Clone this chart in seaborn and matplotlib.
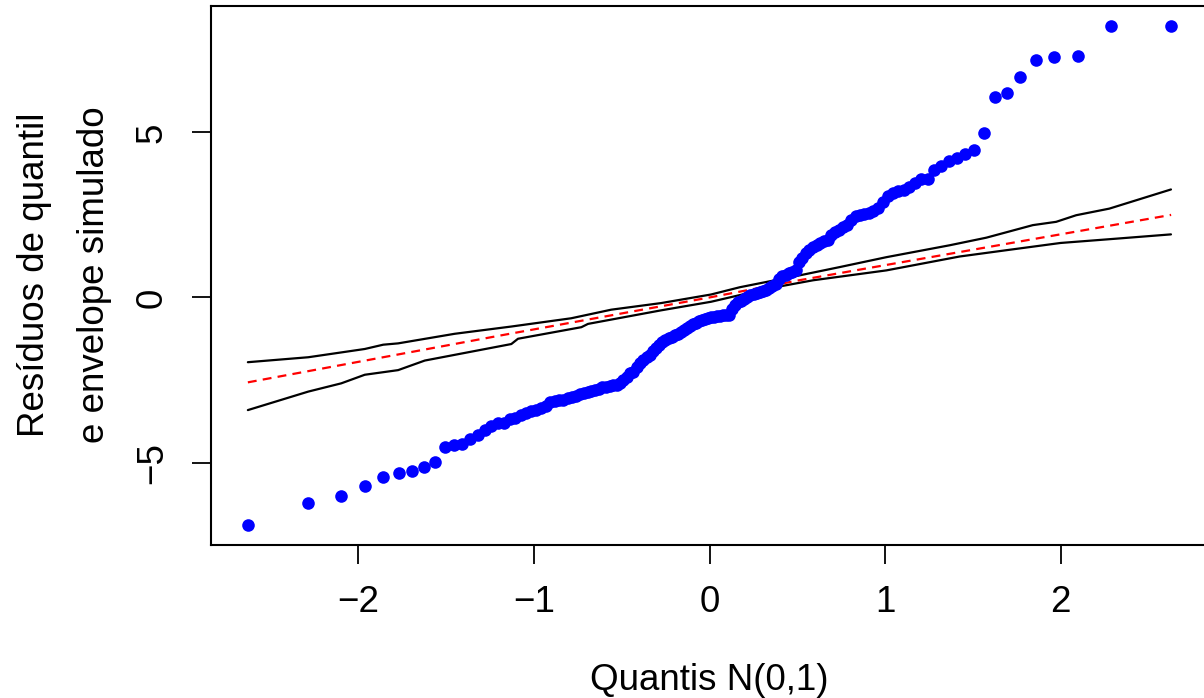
import statistics
import numpy as np
import pandas as pd
import matplotlib
matplotlib.use("Agg")
import matplotlib.pyplot as plt
import seaborn as sns

# ---- data ----
residuals = [
    -6.89, -6.23, -6.01, -5.70, -5.44, -5.31, -5.26, -5.14, -4.98, -4.52,
    -4.47, -4.45, -4.28, -4.16, -4.01, -3.88, -3.80, -3.79, -3.68, -3.65,
    -3.57, -3.49, -3.45, -3.41, -3.35, -3.28, -3.18, -3.13, -3.11, -3.09,
    -3.05, -3.02, -2.98, -2.93, -2.90, -2.87, -2.84, -2.80, -2.76, -2.72,
    -2.70, -2.68, -2.66, -2.64, -2.59, -2.50, -2.40, -2.28, -2.25, -2.10,
    -1.98, -1.89, -1.80, -1.73, -1.63, -1.53, -1.44, -1.36, -1.30, -1.24,
    -1.19, -1.15, -1.11, -1.05, -1.00, -0.93, -0.87, -0.81, -0.76, -0.71,
    -0.68, -0.65, -0.62, -0.60, -0.58, -0.56, -0.55, -0.54, -0.53, -0.52,
    -0.35, -0.22, -0.15, -0.10, -0.04, 0.02, 0.07, 0.10, 0.14, 0.18,
    0.21, 0.24, 0.28, 0.34, 0.42, 0.56, 0.64, 0.69, 0.74, 0.77,
    0.82, 1.07, 1.18, 1.34, 1.45, 1.53, 1.58, 1.64, 1.70, 1.74,
    1.90, 1.98, 2.03, 2.12, 2.20, 2.35, 2.46, 2.49, 2.52, 2.56,
    2.62, 2.72, 2.90, 3.06, 3.17, 3.21, 3.25, 3.35, 3.48, 3.59,
    3.59, 3.85, 3.97, 4.12, 4.22, 4.35, 4.47, 4.97, 6.07, 6.20,
    6.68, 7.18, 7.27, 7.32, 8.22, 8.22,
]

upper_x = [-2.63, -2.286, -1.964, -1.859, -1.774, -1.452, -1.129, -0.788, -0.560,
           -0.276, 0.009, 0.173, 0.514, 0.742, 1.008, 1.368, 1.577, 1.842, 1.975,
           2.089, 2.278, 2.629]
upper_y = [-1.96, -1.81, -1.56, -1.43, -1.39, -1.10, -0.88, -0.63, -0.37,
           -0.17, 0.09, 0.31, 0.67, 0.92, 1.22, 1.58, 1.81, 2.19, 2.29,
           2.49, 2.69, 3.27]

lower_x = [-2.63, -2.286, -2.098, -1.964, -1.774, -1.622, -1.129, -1.091, -0.730,
           -0.692, -0.276, 0.009, 0.325, 0.590, 1.008, 1.425, 1.690, 2.000,
           2.317, 2.629]
lower_y = [-3.41, -2.85, -2.60, -2.34, -2.20, -1.91, -1.41, -1.25, -0.90,
           -0.80, -0.39, -0.13, 0.26, 0.52, 0.82, 1.24, 1.43, 1.65,
           1.78, 1.91]

median_x = [-2.63, -1.19, 0.0, 0.51, 2.63]
median_y = [-2.57, -1.15, 0.0, 0.52, 2.50]

x_label = "Quantis N(0,1)"
y_label_lines = ["Resíduos de quantil", "e envelope simulado"]
x_ticks = [-2, -1, 0, 1, 2]
y_ticks = [-5, 0, 5]

# theoretical N(0,1) quantiles (Blom positions) for the QQ plot
n = len(residuals)
nd = statistics.NormalDist()
theo = [nd.inv_cdf((i - 0.375) / (n + 0.25)) for i in range(1, n + 1)]

pts = pd.DataFrame({"x": theo, "y": residuals})
up = pd.DataFrame({"x": upper_x, "y": upper_y})
lo = pd.DataFrame({"x": lower_x, "y": lower_y})
md = pd.DataFrame({"x": median_x, "y": median_y})

sns.set_theme(style="white")
plt.rcParams["font.family"] = ["Liberation Sans", "DejaVu Sans"]
plt.rcParams["axes.unicode_minus"] = True
for k in ["text.color", "axes.labelcolor", "xtick.color", "ytick.color",
          "axes.edgecolor"]:
    plt.rcParams[k] = "black"

FS = 26.5
W, H = 1204, 698
fig = plt.figure(figsize=(W / 100, H / 100), dpi=100)
ax = fig.add_axes([211 / W, 1 - 545 / H, (1208 - 211) / W, (545 - 6) / H])

sns.lineplot(data=up, x="x", y="y", ax=ax, color="black", lw=1.6,
             estimator=None, sort=False)
sns.lineplot(data=lo, x="x", y="y", ax=ax, color="black", lw=1.6,
             estimator=None, sort=False)
sns.lineplot(data=md, x="x", y="y", ax=ax, color="red", lw=1.6,
             estimator=None, sort=False, dashes=False)
ax.lines[-1].set_dashes((4.0, 2.8))
sns.scatterplot(data=pts, x="x", y="y", ax=ax, color="#0000FF", s=82,
                linewidth=0, zorder=3)

# R-style 4% axis extension
xr = max(theo) - min(theo)
yr = max(residuals) - min(residuals)
ax.set_xlim(min(theo) - 0.04 * xr, max(theo) + 0.04 * xr)
ax.set_ylim(min(residuals) - 0.04 * yr, max(residuals) + 0.04 * yr)

ax.set_xticks(x_ticks)
ax.set_yticks(y_ticks)
ax.set_xticklabels([f"{t}".replace("-", "\u2212") for t in x_ticks])
ax.set_yticklabels([f"{t}".replace("-", "\u2212") for t in y_ticks],
                   rotation=90, va="center")
ax.tick_params(axis="both", direction="out", length=13.7, width=1.3,
               color="black", labelcolor="black", labelsize=FS, bottom=True,
               left=True)
ax.tick_params(axis="x", pad=15)
ax.tick_params(axis="y", pad=16)
for s in ax.spines.values():
    s.set_color("black")
    s.set_linewidth(1.5)
ax.set_xlabel("")
ax.set_ylabel("")

fig.text(709.5 / W, 1 - 680 / H, x_label, ha="center", va="center",
         fontsize=FS, color="black")
fig.text(35 / W, 1 - 275 / H, y_label_lines[0], ha="center", va="center",
         rotation=90, fontsize=FS, color="black")
fig.text(95 / W, 1 - 275 / H, y_label_lines[1], ha="center", va="center",
         rotation=90, fontsize=FS, color="black")

fig.savefig("out.png", dpi=100, facecolor="white")
